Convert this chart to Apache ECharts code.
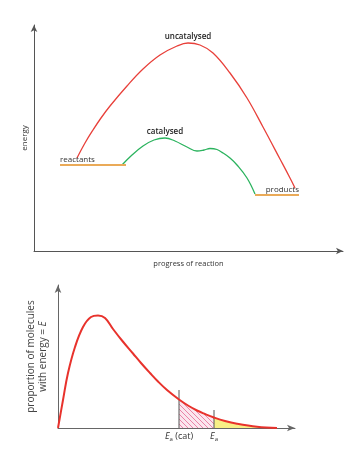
<!DOCTYPE html>
<html>
<head>
<meta charset="utf-8">
<script src="https://cdn.jsdelivr.net/npm/echarts@6/dist/echarts.min.js"></script>
<style>
html,body{margin:0;padding:0;background:#fff;}
#c{width:354px;height:460px;}
</style>
</head>
<body>
<div id="c"></div>
<script>
// ---- Data (top: energy profile; units) ----
var uncatalysed = [[43,93],[51,108],[59,121],[67,133],[76,145],[93,165],[109,182],[126,196],[143,205],[154,208],[166,206],[179,198],[196,178],[213,153],[229,124],[246,92],[256,73],[261,63]];
var catalysed = [[88,86],[98,96],[109,105],[120,111],[131,113],[141,110],[153,104],[163,100],[170,101],[176,102.5],[183,101.5],[189,98],[196,93],[203,86],[213,73],[221,57]];
var reactants = [[26,86],[92,86]];
var products = [[221,56],[265,56]];
var topLabels = {uncat:'uncatalysed', cat:'catalysed', react:'reactants', prod:'products', xName:'progress of reaction', yName:'energy'};

// ---- Data (bottom: Maxwell-Boltzmann distribution) ----
var distribution = [[0,0],[5,28],[10,55],[17,81],[25,101],[33,111],[40,112.5],[47,110],[55,99],[64,87.5],[75,74.5],[83,65],[92,55],[100,46.5],[109,38],[121,28.5],[130,22.5],[139,17.5],[147,14],[156,10.5],[167,7],[179,4.3],[199,1.3],[219,0]];
var eaCat = 121, eaCatTop = 38;
var ea = 156, eaTop = 18;

var hatched = distribution.filter(function(p){return p[0]>=eaCat && p[0]<=ea;});
var yellow = distribution.filter(function(p){return p[0]>=ea;});

function peakIndex(arr){var m=0;for(var i=1;i<arr.length;i++){if(arr[i][1]>arr[m][1])m=i;}return m;}

function withLabel(arr, idx, label){
  return arr.map(function(p,i){
    if(i===idx) return {value:p, label:label};
    return {value:p};
  });
}

// hatch pattern
var pc = document.createElement('canvas');
pc.width = 5; pc.height = 5;
var g = pc.getContext('2d');
g.fillStyle = '#fbe6ee'; g.fillRect(0,0,5,5);
g.strokeStyle = '#e8789e'; g.lineWidth = 0.9;
g.beginPath(); g.moveTo(-1,-1); g.lineTo(6,6); g.moveTo(-1,4); g.lineTo(1,6); g.moveTo(4,-1); g.lineTo(6,1); g.stroke();

var chart = echarts.init(document.getElementById('c'), null, {renderer:'canvas'});
var axisCol = '#555';
var txt = '#333';
var topLbl = {show:true, position:'top', distance:2, fontSize:8, fontWeight:600, color:'#222', fontFamily:'Open Sans'};
var SM = 0.4;

var option = {
  backgroundColor:'#fff',
  animation:false,
  grid:[
    {left:34, top:25, width:309, height:226},
    {left:58, top:285, width:237, height:143}
  ],
  xAxis:[
    {gridIndex:0, type:'value', min:0, max:309, name:topLabels.xName, nameLocation:'middle', nameGap:9,
     nameTextStyle:{fontSize:7.5, color:txt, fontFamily:'Open Sans'},
     axisLine:{lineStyle:{color:axisCol, width:1}, symbol:['none','arrow'], symbolSize:[5,7]},
     axisTick:{show:false}, axisLabel:{show:false}, splitLine:{show:false}},
    {gridIndex:1, type:'value', min:0, max:237,
     axisLine:{lineStyle:{color:'#666', width:1}, symbol:['none','arrow'], symbolSize:[5,8]},
     axisTick:{show:false}, axisLabel:{show:false}, splitLine:{show:false}}
  ],
  yAxis:[
    {gridIndex:0, type:'value', min:0, max:226, name:topLabels.yName, nameLocation:'middle', nameGap:5, nameRotate:90,
     nameTextStyle:{fontSize:8, color:txt, fontFamily:'Open Sans'},
     axisLine:{lineStyle:{color:axisCol, width:1}, symbol:['none','arrow'], symbolSize:[5,7]},
     axisTick:{show:false}, axisLabel:{show:false}, splitLine:{show:false}},
    {gridIndex:1, type:'value', min:0, max:143, name:'{n|proportion of molecules}\n{n|with energy = }{i|E}', nameLocation:'middle', nameGap:9, nameRotate:90,
     nameTextStyle:{fontSize:10, color:'#444', fontFamily:'Open Sans', lineHeight:12,
       rich:{n:{fontSize:10, color:'#444', fontFamily:'Open Sans'}, i:{fontSize:10, color:'#444', fontStyle:'italic', fontFamily:'Open Sans'}}},
     axisLine:{lineStyle:{color:'#666', width:1}, symbol:['none','arrow'], symbolSize:[5,8]},
     axisTick:{show:false}, axisLabel:{show:false}, splitLine:{show:false}}
  ],
  series:[
    {type:'line', xAxisIndex:0, yAxisIndex:0, smooth:SM, symbol:'circle', symbolSize:0, showSymbol:true,
     lineStyle:{color:'#e8403a', width:1.3}, itemStyle:{color:'#e8403a'},
     emphasis:{disabled:true},
     data:withLabel(uncatalysed, peakIndex(uncatalysed), Object.assign({}, topLbl, {formatter:topLabels.uncat}))},
    {type:'line', xAxisIndex:0, yAxisIndex:0, smooth:SM, symbol:'circle', symbolSize:0, showSymbol:true,
     lineStyle:{color:'#2bb35e', width:1.3}, itemStyle:{color:'#2bb35e'},
     emphasis:{disabled:true},
     data:withLabel(catalysed, peakIndex(catalysed), Object.assign({}, topLbl, {formatter:topLabels.cat}))},
    {type:'line', xAxisIndex:0, yAxisIndex:0, symbol:'circle', symbolSize:0, showSymbol:true,
     lineStyle:{color:'#eaaa58', width:1.8}, itemStyle:{color:'#eaaa58'},
     emphasis:{disabled:true},
     data:withLabel(reactants, 0, {show:true, position:'top', align:'left', distance:1, fontSize:8, color:'#333', fontFamily:'Open Sans', formatter:topLabels.react})},
    {type:'line', xAxisIndex:0, yAxisIndex:0, symbol:'circle', symbolSize:0, showSymbol:true,
     lineStyle:{color:'#eaaa58', width:1.8}, itemStyle:{color:'#eaaa58'},
     emphasis:{disabled:true},
     data:withLabel(products, products.length-1, {show:true, position:'top', align:'right', distance:1, fontSize:8, color:'#333', fontFamily:'Open Sans', formatter:topLabels.prod})},

    // bottom
    {type:'line', xAxisIndex:1, yAxisIndex:1, smooth:SM, symbol:'none',
     lineStyle:{width:0, opacity:0}, areaStyle:{color:{image:pc, repeat:'repeat'}, opacity:1},
     data:hatched, z:1},
    {type:'line', xAxisIndex:1, yAxisIndex:1, smooth:SM, symbol:'none',
     lineStyle:{width:0, opacity:0}, areaStyle:{color:'#f8ef86', opacity:1},
     data:yellow, z:1},
    {type:'line', xAxisIndex:1, yAxisIndex:1, symbol:'circle', symbolSize:0, showSymbol:true,
     lineStyle:{color:'#555', width:1}, emphasis:{disabled:true}, z:3,
     data:withLabel([[eaCat,0],[eaCat,eaCatTop]], 0, {show:true, position:'bottom', distance:3, formatter:'{e|E}{s|a}{t| (cat)}',
       rich:{e:{fontSize:9, fontStyle:'italic', color:'#333', fontFamily:'Open Sans'}, s:{fontSize:6, color:'#333', padding:[5,0,0,0], fontFamily:'Open Sans'}, t:{fontSize:9, color:'#333', fontFamily:'Open Sans'}}})},
    {type:'line', xAxisIndex:1, yAxisIndex:1, symbol:'circle', symbolSize:0, showSymbol:true,
     lineStyle:{color:'#555', width:1}, emphasis:{disabled:true}, z:3,
     data:withLabel([[ea,0],[ea,eaTop]], 0, {show:true, position:'bottom', distance:3, formatter:'{e|E}{s|a}',
       rich:{e:{fontSize:9, fontStyle:'italic', color:'#333', fontFamily:'Open Sans'}, s:{fontSize:6, color:'#333', padding:[5,0,0,0], fontFamily:'Open Sans'}}})},
    {type:'line', xAxisIndex:1, yAxisIndex:1, smooth:SM, symbol:'none',
     lineStyle:{color:'#e8322c', width:2}, z:4,
     data:distribution}
  ]
};
chart.setOption(option);
</script>
</body>
</html>
